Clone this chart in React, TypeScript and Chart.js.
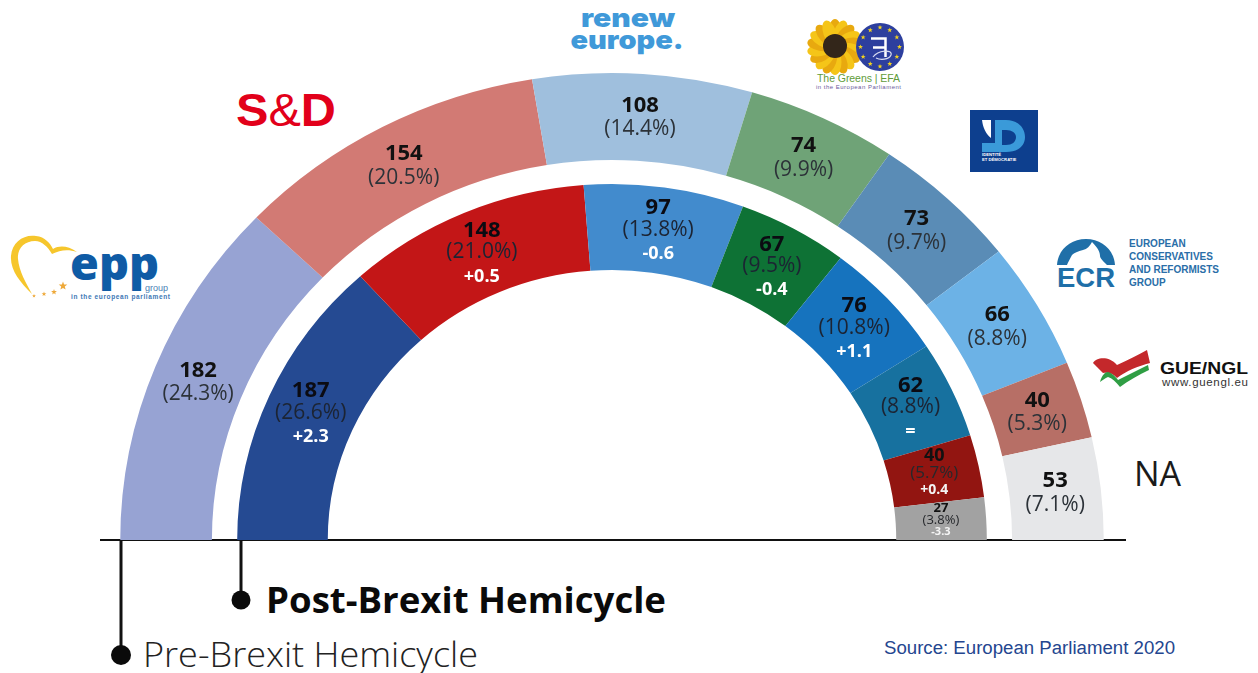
import React, { useEffect, useRef } from "react";
import { Chart, registerables } from "chart.js";

Chart.register(...registerables);

// European Parliament groups, left to right around the hemicycle
const groups = ["EPP", "S&D", "Renew Europe", "Greens/EFA", "ID", "ECR", "GUE/NGL", "NA"];
const preSeats = [182, 154, 108, 74, 73, 66, 40, 53];
const preShare = ["24.3%", "20.5%", "14.4%", "9.9%", "9.7%", "8.8%", "5.3%", "7.1%"];
const postSeats = [187, 148, 97, 67, 76, 62, 40, 27];
const postShare = ["26.6%", "21.0%", "13.8%", "9.5%", "10.8%", "8.8%", "5.7%", "3.8%"];
const postChange = ["+2.3", "+0.5", "-0.6", "-0.4", "+1.1", "=", "+0.4", "-3.3"];
const preColors = ["#97a3d3", "#d27a74", "#9fbfdd", "#6fa377", "#5a8cb6", "#6cb2e6", "#b76f66", "#e6e7e9"];
const postColors = ["#254a92", "#c31617", "#428bcd", "#0e7235", "#1673be", "#17719f", "#921511", "#a2a2a2"];

const WIDTH = 1258;
const HEIGHT = 673;
const CX = 612;
const CY = 540;
const RADIUS = 467;
const STRETCH = 1.053; // the hemicycle is a little wider than it is tall
const LABEL_FONT = '"Open Sans", sans-serif';

function drawLine(ctx: CanvasRenderingContext2D, text: string, x: number, y: number, font: string, color: string) {
  ctx.font = font;
  ctx.fillStyle = color;
  ctx.fillText(text, x, y);
}

const hemicyclePlugin = {
  id: "hemicycle",
  beforeDatasetsDraw(chart: any) {
    const { ctx } = chart;
    ctx.save();
    ctx.translate(CX, CY);
    ctx.scale(STRETCH, 1);
    ctx.translate(-CX, -CY);
  },
  afterDatasetsDraw(chart: any) {
    const { ctx } = chart;
    ctx.restore();
    ctx.save();
    ctx.textAlign = "center";
    ctx.textBaseline = "middle";

    const centreOf = (el: any) => {
      const a = (el.startAngle + el.endAngle) / 2;
      const r = (el.innerRadius + el.outerRadius) / 2;
      return { x: CX + Math.cos(a) * r * STRETCH, y: el.y + Math.sin(a) * r };
    };

    chart.getDatasetMeta(0).data.forEach((el: any, i: number) => {
      const p = centreOf(el);
      drawLine(ctx, String(preSeats[i]), p.x, p.y - 12, `700 22px ${LABEL_FONT}`, "#111");
      drawLine(ctx, `(${preShare[i]})`, p.x, p.y + 12, `400 21px ${LABEL_FONT}`, "#2c3238");
    });

    chart.getDatasetMeta(2).data.forEach((el: any, i: number) => {
      const p = centreOf(el);
      if (postSeats[i] < 30) {
        // The narrowest slice only has room for a tight three-line label
        const y = p.y - 1;
        drawLine(ctx, String(postSeats[i]), p.x, y - 11.5, `700 13px ${LABEL_FONT}`, "#111");
        drawLine(ctx, `(${postShare[i]})`, p.x, y, `400 13px ${LABEL_FONT}`, "#26282c");
        drawLine(ctx, postChange[i], p.x, y + 11.5, `700 11px ${LABEL_FONT}`, "#f4f4f4");
      } else if (postSeats[i] <= 40) {
        const y = p.y - 2;
        drawLine(ctx, String(postSeats[i]), p.x, y - 17, `700 18px ${LABEL_FONT}`, "#111");
        drawLine(ctx, `(${postShare[i]})`, p.x, y, `400 17px ${LABEL_FONT}`, "#26282c");
        drawLine(ctx, postChange[i], p.x, y + 17, `700 14px ${LABEL_FONT}`, "#f4f4f4");
      } else {
        drawLine(ctx, String(postSeats[i]), p.x, p.y - 22, `700 22px ${LABEL_FONT}`, "#0b0b12");
        drawLine(ctx, `(${postShare[i]})`, p.x, p.y, `400 21px ${LABEL_FONT}`, "#1c2433");
        drawLine(ctx, postChange[i], p.x, p.y + 24, `700 18px ${LABEL_FONT}`, "#ffffff");
      }
    });
    ctx.restore();
  },
};

function starPoints(cx: number, cy: number, r: number) {
  const pts: string[] = [];
  for (let k = 0; k < 10; k++) {
    const a = -Math.PI / 2 + (k * Math.PI) / 5;
    const d = k % 2 ? r * 0.42 : r;
    pts.push(`${(cx + Math.cos(a) * d).toFixed(1)},${(cy + Math.sin(a) * d).toFixed(1)}`);
  }
  return pts.join(" ");
}

function Logos() {
  const sans = '"Liberation Sans", Arial, sans-serif';
  const open = '"Open Sans", sans-serif';
  const petals = Array.from({ length: 18 }, (_, k) => k * 20);
  const euStars = Array.from({ length: 12 }, (_, k) => (k * Math.PI) / 6);
  return (
    <svg width={WIDTH} height={HEIGHT} style={{ position: "absolute", left: 0, top: 0 }}>
      {/* EPP */}
      <path
        d="M32 294 C20 282 10 270 11 256 C12 242 24 234 36 236 C45 237 50 243 53 249 C60 245 68 246 77 252 C68 249 60 250 52 254 C48 247 42 241 35 241 C24 241 17 249 18 259 C19 271 26 283 32 294 Z"
        fill="#f6c62c"
      />
      {[[34, 296, 2], [44, 294, 2.5], [54, 292, 3], [63, 286, 4.5]].map(([x, y, r]) => (
        <polygon key={x} points={starPoints(x, y, r)} fill="#eea93a" />
      ))}
      <text x={70} y={280} fontFamily={open} fontWeight={800} fontSize={46} fill="#0f5ba5" textLength={89} lengthAdjust="spacingAndGlyphs">epp</text>
      <text x={145} y={291} fontFamily={sans} fontSize={9} fill="#4a7fb5">group</text>
      <text x={71} y={299} fontFamily={sans} fontWeight={700} fontSize={6.5} fill="#3d78b5" textLength={99}>in the european parliament</text>

      {/* S&D */}
      <text x={236} y={126} fontFamily={sans} fontSize={47} fill="#e2001a" fontWeight={700} textLength={100} lengthAdjust="spacingAndGlyphs">
        S<tspan fontWeight={400}>&amp;</tspan>D
      </text>

      {/* Renew Europe */}
      <text x={628} y={27} textAnchor="middle" fontFamily="Inter, sans-serif" fontWeight={900} fontSize={26} fill="#4099d9" textLength={94} lengthAdjust="spacingAndGlyphs">renew</text>
      <text x={627} y={49} textAnchor="middle" fontFamily="Inter, sans-serif" fontWeight={900} fontSize={26} fill="#4099d9" textLength={113} lengthAdjust="spacingAndGlyphs">europe.</text>

      {/* Greens/EFA */}
      {petals.map((deg) => (
        <ellipse key={deg} cx={835} cy={32} rx={6.5} ry={13} fill={deg % 40 ? "#f5c518" : "#e8a90f"} transform={`rotate(${deg} 835 47)`} />
      ))}
      <circle cx={835} cy={46} r={12} fill="#33261a" />
      <circle cx={880} cy={47} r={24} fill="#2d3f9e" />
      {euStars.map((a) => (
        <polygon key={a} points={starPoints(880 + Math.cos(a) * 19.5, 47 + Math.sin(a) * 19.5, 2.6)} fill="#f2d21f" />
      ))}
      <path d="M871 38.5 H885.5 V57 M873 47.5 H885" fill="none" stroke="#ffffff" strokeWidth={2.5} />
      <path d="M873 57 C878 50 893 49 891 55 C889 60 880 60 876 58" fill="none" stroke="#d8dcf0" strokeWidth={1.2} />
      <text x={817} y={82} fontFamily={sans} fontSize={10.5} fill="#5f9c3a" textLength={83}>The Greens | EFA</text>
      <text x={816} y={89} fontFamily={sans} fontSize={6} fill="#6b5a9c" textLength={85}>in the European Parliament</text>

      {/* ID */}
      <rect x={970} y={110} width={68} height={62} fill="#0d3f8e" />
      <path
        fillRule="evenodd"
        d="M995 120 H1006 C1018 120 1025 128 1025 137 C1025 146 1018 152 1006 152 H982 V143 H995 Z M1002 130 V145 H1006 C1012 145 1016 142 1016 137 C1016 133 1012 130 1006 130 Z"
        fill="#3a9ad9"
      />
      <path d="M982 120 H991 V138 C986 134 983 128 982 120 Z" fill="#ffffff" />
      <text x={982} y={156} fontFamily={sans} fontWeight={700} fontSize={4.2} fill="#ffffff">IDENTITÉ</text>
      <text x={982} y={161} fontFamily={sans} fontWeight={700} fontSize={4.2} fill="#ffffff">ET DÉMOCRATIE</text>

      {/* ECR */}
      <path d="M1057 265 C1058 250 1070 239 1086 239 C1102 239 1114 250 1115 265 H1107 C1103 261 1100 258 1100 256 C1100 252 1098 248 1092 242 C1090 246 1087 249 1083 250 C1078 251 1074 253 1072 255 C1070 259 1068 262 1067 265 Z" fill="#1f6fa8" />
      <text x={1057} y={287} fontFamily={sans} fontWeight={700} fontSize={28} fill="#1f6fa8" textLength={58} lengthAdjust="spacingAndGlyphs">ECR</text>
      {["EUROPEAN", "CONSERVATIVES", "AND REFORMISTS", "GROUP"].map((t, k) => (
        <text key={t} x={1129} y={247 + k * 13} fontFamily={sans} fontWeight={700} fontSize={10} fill="#2a6ea8">{t}</text>
      ))}

      {/* GUE/NGL */}
      <path d="M1093 363 C1096 358 1108 355 1117 365 C1128 360 1138 355 1147 350 L1150 363 C1138 366 1126 371 1117 378 C1113 373 1108 372 1103 373 Z" fill="#c4282b" />
      <path d="M1100 382 C1102 375 1105 372 1108 372 C1112 373 1116 377 1118 380 C1128 375 1138 370 1148 365 L1149 370 C1138 375 1128 381 1120 387 C1116 382 1112 378 1108 377 C1105 378 1103 380 1100 382 Z" fill="#2f9e44" />
      <text x={1160} y={374} fontFamily={sans} fontWeight={700} fontSize={17} fill="#111" textLength={88} lengthAdjust="spacingAndGlyphs">GUE/NGL</text>
      <text x={1162} y={386} fontFamily={sans} fontSize={11.5} fill="#333" textLength={86}>www.guengl.eu</text>

      {/* NA */}
      <text x={1134} y={486} fontFamily={open} fontSize={34} fill="#1a1a1a">NA</text>

      {/* Base line and leader lines to the two hemicycle captions */}
      <line x1={100} y1={540} x2={1126} y2={540} stroke="#111" strokeWidth={2} />
      <line x1={121} y1={540} x2={121} y2={655} stroke="#111" strokeWidth={3} />
      <circle cx={121} cy={655} r={10} fill="#0a0a0a" />
      <line x1={241} y1={540} x2={241} y2={600} stroke="#111" strokeWidth={3} />
      <circle cx={241} cy={600} r={9.5} fill="#0a0a0a" />
      <text x={266} y={613} fontFamily={open} fontWeight={700} fontSize={35} fill="#0a0a0a" textLength={400} lengthAdjust="spacingAndGlyphs">Post-Brexit Hemicycle</text>
      <text x={143} y={667} fontFamily={open} fontWeight={300} fontSize={35} fill="#222" textLength={335} lengthAdjust="spacingAndGlyphs">Pre-Brexit Hemicycle</text>
      <text x={884} y={654} fontFamily={sans} fontSize={17.6} fill="#24468f" textLength={291} lengthAdjust="spacingAndGlyphs">Source: European Parliament 2020</text>
    </svg>
  );
}

export default function App() {
  const canvasRef = useRef<HTMLCanvasElement>(null);

  useEffect(() => {
    const chart = new Chart(canvasRef.current as HTMLCanvasElement, {
      type: "doughnut",
      data: {
        labels: groups,
        datasets: [
          { label: "Pre-Brexit Hemicycle", data: preSeats, backgroundColor: preColors, borderWidth: 0, weight: 87 },
          // Empty ring that holds the white gap between the two hemicycles
          { label: "gap", data: [1], backgroundColor: ["rgba(0,0,0,0)"], borderWidth: 0, weight: 24 },
          { label: "Post-Brexit Hemicycle", data: postSeats, backgroundColor: postColors, borderWidth: 0, weight: 86 },
        ],
      },
      options: {
        animation: false,
        responsive: false,
        events: [],
        rotation: -90,
        circumference: 180,
        cutout: "57.8%",
        layout: {
          padding: { left: CX - RADIUS, right: WIDTH - CX - RADIUS, top: CY - RADIUS, bottom: HEIGHT - CY },
        },
        plugins: { legend: { display: false }, tooltip: { enabled: false } },
      },
      plugins: [hemicyclePlugin],
    } as any);
    return () => chart.destroy();
  }, []);

  return (
    <div style={{ position: "fixed", left: 0, top: 0, width: WIDTH, height: HEIGHT, background: "#fff", overflow: "hidden" }}>
      <Logos />
      <canvas ref={canvasRef} width={WIDTH} height={HEIGHT} style={{ position: "absolute", left: 0, top: 0 }} />
    </div>
  );
}
